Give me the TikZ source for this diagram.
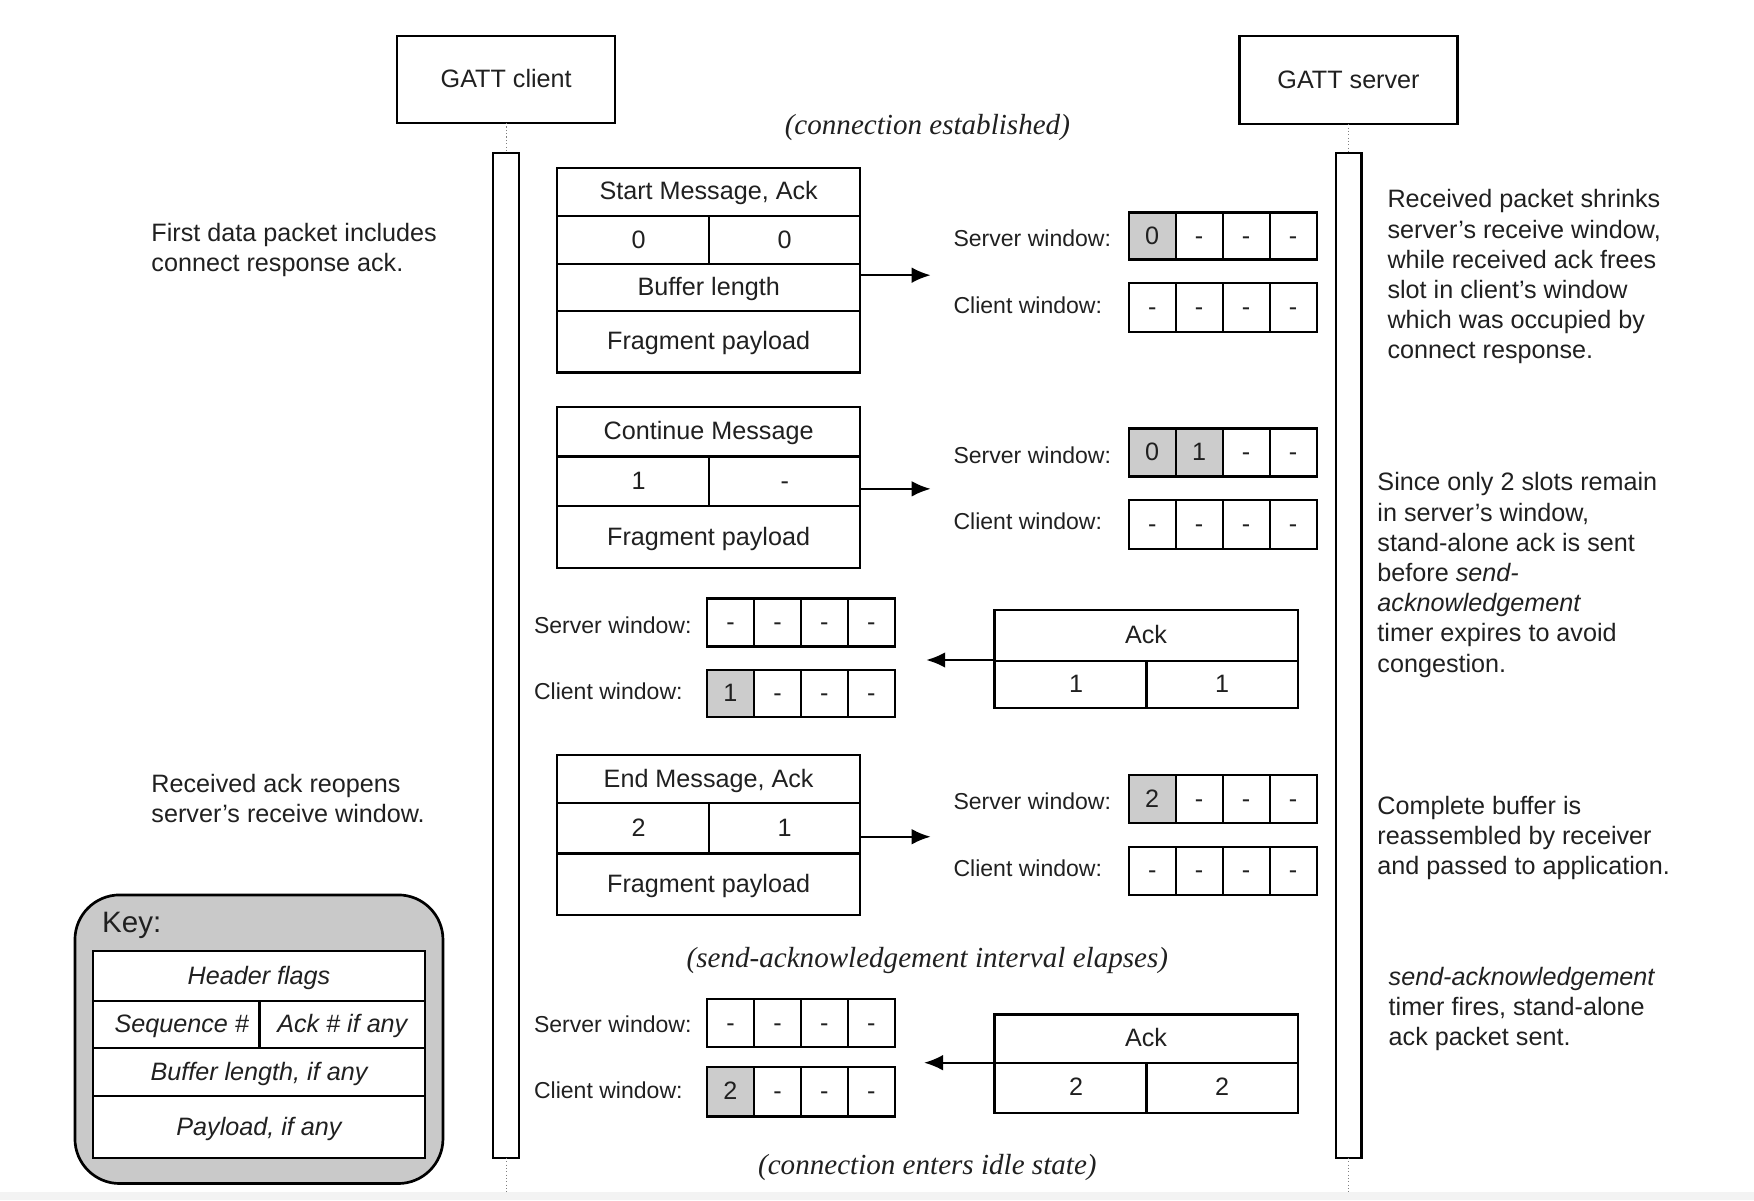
\documentclass[tikz,border=0pt]{standalone}
\usepackage{fontspec}
\setmainfont{Liberation Sans}
\newfontfamily\serifit{Liberation Serif}
\usetikzlibrary{arrows.meta}
\definecolor{cellgray}{HTML}{CCCCCC}
\definecolor{keygray}{HTML}{C9C9C9}
\definecolor{txt}{HTML}{202020}
\definecolor{stripgray}{HTML}{F3F3F3}
\newcommand\fsz{\fontsize{11.25}{13.5}\selectfont}
\newcommand\fsm{\fontsize{10.3}{12}\selectfont}
\newcommand\fkey{\fontsize{13.2}{15}\selectfont}
\newcommand\fser{\serifit\itshape\fontsize{13}{15}\selectfont}
\newcommand\lsh{\hspace*{5pt}}
\tikzset{
  rbox/.style={draw, line width=1pt, inner sep=0pt, outer sep=0pt, fill=white, font=\fsz, text=txt, text height=0.72em, text depth=0pt},
  note/.style={anchor=west, align=left, inner sep=0pt, font=\fsz, text=txt},
  wlabel/.style={anchor=west, inner sep=0pt, font=\fsm, text=txt},
  event/.style={inner sep=0pt, font=\fser, text=txt},
  msg/.style={line width=1pt, -{Latex[length=8.5pt,width=7pt]}},
  lifedot/.style={gray, line width=0.5pt, densely dotted},
}
\newcommand\rbox[7][]{\node[rbox,minimum width={(#5-#3)*0.5pt},minimum height={(#6-#4)*0.5pt},#1] (#2) at ({(#3+#5)/2},{(#4+#6)/2}) {#7};}
\newcommand\window[6]{%
  \foreach \cc/\vv [count=\i] in {#6}{%
    \pgfmathsetmacro\xa{#2+(\i-1)*(#4-#2)/4}%
    \pgfmathsetmacro\xb{#2+\i*(#4-#2)/4}%
    \rbox[fill=\cc]{#1\i}{\xa}{#3}{\xb}{#5}{\vv}%
  }}
\begin{document}
\begin{tikzpicture}[x=0.5pt,y=-0.5pt]
\useasboundingbox (0,0) rectangle (1568,1073);
\fill[stripgray] (0,1066) rectangle (1568,1073);

% participants
\rbox{client}{355}{32}{550}{110}{GATT client}
\rbox{server}{1108}{32}{1303}{111}{GATT server}
\rbox{clbar}{441}{137}{464}{1035}{}
\rbox{svbar}{1194}{137}{1217}{1035}{}
\coordinate (clend) at (452.5,1066);
\coordinate (svend) at (1205.5,1066);
\draw[lifedot] (client.south) -- (clbar.north);
\draw[lifedot] (clbar.south) -- (clend);
\draw[lifedot] (server.south) -- (svbar.north);
\draw[lifedot] (svbar.south) -- (svend);

\node[event] (ev1) at (829,114) {(connection established)};
\node[event] (ev2) at (829,859) {(send-acknowledgement interval elapses)};
\node[event] (ev3) at (829,1044) {(connection enters idle state)};

% packet 1
\rbox{p1h}{498}{150}{769}{193}{Start Message, Ack}
\rbox{p1s}{498}{193}{634}{236}{\lsh 0}
\rbox{p1a}{634}{193}{769}{236}{0}
\rbox{p1b}{498}{236}{769}{278}{Buffer length}
\rbox{p1f}{498}{278}{769}{333}{Fragment payload}
\coordinate (a1) at (832,246);
\draw[msg] (p1b.east |- a1) -- (a1);
\node[wlabel] (sl1) at (852,213) {Server window:};
\node[wlabel] (cl1) at (852,273) {Client window:};
\window{sw1}{1009}{190}{1177}{232}{cellgray/0,white/-,white/-,white/-}
\window{cw1}{1009}{253}{1177}{297}{white/-,white/-,white/-,white/-}

% packet 2
\rbox{p2h}{498}{364}{769}{408}{Continue Message}
\rbox{p2s}{498}{408}{634}{452}{\lsh 1}
\rbox{p2a}{634}{408}{769}{452}{-}
\rbox{p2f}{498}{452}{769}{508}{Fragment payload}
\coordinate (a2) at (832,437);
\draw[msg] (p2a.east |- a2) -- (a2);
\node[wlabel] (sl2) at (852,407) {Server window:};
\node[wlabel] (cl2) at (852,466) {Client window:};
\window{sw2}{1009}{383}{1177}{426}{cellgray/0,cellgray/1,white/-,white/-}
\window{cw2}{1009}{447}{1177}{491}{white/-,white/-,white/-,white/-}

% ack 1
\rbox{k1h}{889}{545}{1160}{591}{Ack}
\rbox{k1s}{889}{591}{1025}{633}{\lsh 1}
\rbox{k1a}{1025}{591}{1160}{633}{1}
\coordinate (a4) at (828,590);
\draw[msg] (k1h.west |- a4) -- (a4);
\node[wlabel] (sl3) at (477,559) {Server window:};
\node[wlabel] (cl3) at (477,618) {Client window:};
\window{sw3}{632}{535}{800}{578}{white/-,white/-,white/-,white/-}
\window{cw3}{632}{599}{800}{641}{cellgray/1,white/-,white/-,white/-}

% packet 3
\rbox{p3h}{498}{675}{769}{718}{End Message, Ack}
\rbox{p3s}{498}{718}{634}{763}{\lsh 2}
\rbox{p3a}{634}{718}{769}{763}{1}
\rbox{p3f}{498}{763}{769}{818}{Fragment payload}
\coordinate (a3) at (832,748);
\draw[msg] (p3a.east |- a3) -- (a3);
\node[wlabel] (sl4) at (852,716) {Server window:};
\node[wlabel] (cl4) at (852,776) {Client window:};
\window{sw4}{1009}{693}{1177}{736}{cellgray/2,white/-,white/-,white/-}
\window{cw4}{1009}{757}{1177}{800}{white/-,white/-,white/-,white/-}

% ack 2
\rbox{k2h}{889}{907}{1160}{950}{Ack}
\rbox{k2s}{889}{950}{1025}{995}{\lsh 2}
\rbox{k2a}{1025}{950}{1160}{995}{2}
\coordinate (a5) at (826,950);
\draw[msg] (k2h.west |- a5) -- (a5);
\node[wlabel] (sl5) at (477,916) {Server window:};
\node[wlabel] (cl5) at (477,975) {Client window:};
\window{sw5}{632}{893}{800}{936}{white/-,white/-,white/-,white/-}
\window{cw5}{632}{954}{800}{998}{cellgray/2,white/-,white/-,white/-}

% notes
\node[note] (l1) at (135,223.5) {First data packet includes\\connect response ack.};
\node[note] (l2) at (135,713.5) {Received ack reopens\\server’s receive window.};
\node[note] (r1) at (1240,247.5) {Received packet shrinks\\server’s receive window,\\while received ack frees\\slot in client’s window\\which was occupied by\\connect response.};
\node[note] (r2) at (1231,514) {Since only 2 slots remain\\in server’s window,\\stand-alone ack is sent\\before \textit{send-}\\\textit{acknowledgement}\\timer expires to avoid\\congestion.};
\node[note] (r3) at (1231,749) {Complete buffer is\\reassembled by receiver\\and passed to application.};
\node[note] (r4) at (1241,902) {\textit{send-acknowledgement}\\timer fires, stand-alone\\ack packet sent.};

% key
\rbox[fill=keygray, rounded corners=20pt, line width=1.2pt]{key}{67}{800}{396}{1058}{}
\node[anchor=west, inner sep=0pt, font=\fkey, text=txt] (keylbl) at (91,827) {Key:};
\rbox[font=\fsz\itshape]{kyh}{83}{850}{380}{895}{Header flags}
\rbox[font=\fsz\itshape]{kys}{83}{895}{232}{937}{\lsh Sequence \#}
\rbox[font=\fsz\itshape]{kya}{232}{895}{380}{937}{Ack \# if any}
\rbox[font=\fsz\itshape]{kyb}{83}{937}{380}{980}{Buffer length, if any}
\rbox[font=\fsz\itshape]{kyp}{83}{980}{380}{1035}{Payload, if any}
\end{tikzpicture}
\end{document}
